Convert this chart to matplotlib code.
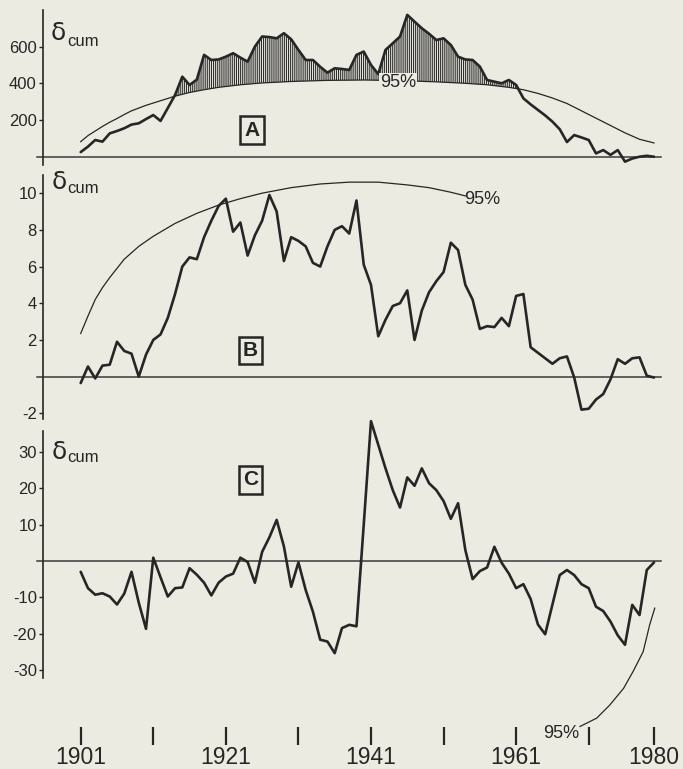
import numpy as np
import matplotlib
matplotlib.use("Agg")
import matplotlib.pyplot as plt

# ---------------------------------------------------------------- data
years = np.arange(1901, 1981)

# A: cumulative departures (upper panel)
cum_a = [25, 55, 91, 82, 127, 140, 155, 175, 182, 205,
         227, 195, 265, 336, 436, 391, 420, 555, 527, 530,
         545, 564, 540, 518, 600, 655, 652, 645, 673, 640,
         582, 527, 527, 490, 458, 482, 478, 473, 555, 573,
         500, 450, 582, 618, 655, 773, 736, 700, 670, 636,
         645, 609, 545, 530, 527, 491, 418, 409, 400, 418,
         391, 318, 285, 255, 225, 191, 150, 80, 118, 105,
         91, 18, 36, 10, 36, -27, -10, 0, 5, 0]

# B: cumulative departures (middle panel)
cum_b = [-0.35, 0.55, -0.1, 0.6, 0.65, 1.9, 1.4, 1.25, 0.0, 1.2,
         2.0, 2.3, 3.2, 4.5, 6.0, 6.5, 6.4, 7.6, 8.5, 9.3,
         9.7, 7.9, 8.4, 6.6, 7.7, 8.5, 9.9, 9.0, 6.3, 7.6,
         7.4, 7.1, 6.2, 6.0, 7.1, 8.0, 8.2, 7.8, 9.6, 6.1,
         5.0, 2.2, 3.1, 3.85, 4.0, 4.7, 2.0, 3.6, 4.6, 5.2,
         5.7, 7.3, 6.9, 5.0, 4.2, 2.6, 2.75, 2.7, 3.2, 2.75,
         4.4, 4.5, 1.6, 1.3, 1.0, 0.7, 1.0, 1.1, -0.05, -1.8,
         -1.75, -1.25, -0.95, -0.15, 0.95, 0.7, 1.0, 1.05, 0.05, -0.05]

# C: cumulative departures (lower panel)
cum_c = [-3.0, -7.5, -9.3, -8.9, -9.8, -12.0, -9.0, -3.0, -11.5, -18.7,
         0.9, -4.5, -9.8, -7.5, -7.3, -2.0, -3.8, -6.0, -9.5, -6.0,
         -4.3, -3.5, 0.9, -0.3, -6.0, 2.5, 6.5, 11.3, 4.0, -7.1,
         -0.4, -8.0, -14.0, -21.7, -22.2, -25.4, -18.5, -17.6, -18.0, 10.0,
         38.5, 32.0, 25.5, 19.5, 14.7, 23.0, 20.7, 25.5, 21.4, 19.5,
         16.5, 11.6, 15.9, 3.0, -5.0, -2.8, -1.8, 3.9, -0.5, -3.5,
         -7.5, -6.4, -10.5, -17.5, -20.2, -12.0, -3.9, -2.5, -3.9, -6.4,
         -7.5, -12.6, -13.8, -16.7, -20.5, -23.1, -12.1, -14.9, -2.5, -0.4]

# 95 % critical curves
crit_a_years = [1901, 1902, 1903, 1904, 1905, 1906, 1907, 1908, 1910, 1912,
                1914, 1916, 1918, 1920, 1923, 1926, 1930, 1935, 1940, 1945,
                1950, 1954, 1957, 1960, 1962, 1964, 1966, 1968, 1970, 1972,
                1974, 1976, 1978, 1980]
crit_a = [82, 115, 140, 165, 188, 208, 230, 250, 280, 305,
          330, 350, 365, 378, 392, 402, 410, 416, 418, 415,
          408, 400, 392, 378, 365, 345, 320, 290, 250, 210,
          170, 130, 95, 75]

crit_b_years = [1901, 1902, 1903, 1904, 1905, 1907, 1909, 1911, 1914, 1917,
                1920, 1923, 1926, 1930, 1934, 1938, 1942, 1946, 1949, 1952,
                1954]
crit_b = [2.35, 3.3, 4.2, 4.85, 5.4, 6.4, 7.1, 7.65, 8.35, 8.9,
          9.35, 9.7, 10.0, 10.3, 10.5, 10.6, 10.6, 10.45, 10.3, 10.05,
          9.85]

crit_c_years = [1969.8, 1972.1, 1973.9, 1975.8, 1977.1, 1978.5, 1979.4, 1980.1]
crit_c = [-45.6, -43.3, -39.7, -35.1, -30.5, -25.0, -17.6, -13.0]

ticks_a = [200, 400, 600]
ticks_b = [-2, 2, 4, 6, 8, 10]
ticks_c = [-30, -20, -10, 10, 20, 30]
year_ticks = [1901, 1911, 1921, 1931, 1941, 1951, 1961, 1971, 1980]
year_labels = ["1901", "", "1921", "", "1941", "", "1961", "", "1980"]

# ---------------------------------------------------------------- style
BG = "#ecebe2"
INK = "#262626"
FONT = "Liberation Sans"
W, H = 683, 769

plt.rcParams["axes.unicode_minus"] = False
plt.rcParams["hatch.linewidth"] = 0.8
plt.rcParams["font.family"] = [FONT, "DejaVu Sans"]

fig = plt.figure(figsize=(W / 100, H / 100), dpi=100, facecolor=BG)


def add_panel(top, bottom, left=43, right=670):
    ax = fig.add_axes([left / W, 1 - bottom / H, (right - left) / W,
                       (bottom - top) / H])
    ax.set_facecolor("none")
    for side in ("top", "right", "bottom"):
        ax.spines[side].set_visible(False)
    ax.spines["left"].set_color(INK)
    ax.spines["left"].set_linewidth(1.2)
    ax.set_xlim(1895.805, 1982.2)
    ax.tick_params(axis="y", direction="out", length=3, width=1.0,
                   color=INK, pad=1.5, labelsize=12, labelcolor=INK)
    return ax


def zero_line(ax):
    ax.plot([1894.98, 1980.96], [0, 0], color="#3a3a3a", lw=1.1,
            clip_on=False, zorder=1)


def sym_label(ax, x, y_delta, y_sub):
    ax.text(x, y_delta, "δ", fontsize=18, color=INK, ha="left", va="center",
            family="DejaVu Sans")
    ax.text(x + 2.2, y_sub, "cum", fontsize=12, color=INK, ha="left",
            va="center")


def box_label(ax, x, y, s):
    ax.text(x, y, s, fontsize=15, color=INK, ha="center", va="center",
            fontweight="bold",
            bbox=dict(boxstyle="square,pad=0.2", facecolor="none",
                      edgecolor=INK, linewidth=1.8))


line_kw = dict(color=INK, lw=1.9, solid_joinstyle="round",
               solid_capstyle="round", zorder=3)
crit_kw = dict(color=INK, lw=0.9, zorder=2)

# ---------------------------------------------------------------- panel A
ax_a = add_panel(10, 165)
ax_a.set_ylim(-45.2, 799.5)
ax_a.set_xticks([])
ax_a.set_yticks(ticks_a)
ax_a.set_yticklabels([str(t) for t in ticks_a])
zero_line(ax_a)
xf = np.linspace(1901, 1980, 3000)
ya = np.interp(xf, years, cum_a)
ca = np.interp(xf, crit_a_years, crit_a)
ax_a.fill_between(xf, ca, ya, where=ya > ca, interpolate=True,
                  facecolor="none", edgecolor="#2e2e2e", hatch="|" * 8,
                  linewidth=0, zorder=2)
ax_a.plot(crit_a_years, crit_a, **crit_kw)
ax_a.plot(years, cum_a, **line_kw)
ax_a.text(1944.7, 404, "95%", fontsize=13, color=INK, ha="center",
          va="center", zorder=4,
          bbox=dict(boxstyle="square,pad=0.05", facecolor=BG,
                    edgecolor="none"))
sym_label(ax_a, 1896.9, 672, 628)
box_label(ax_a, 1924.6, 145, "A")

# ---------------------------------------------------------------- panel B
ax_b = add_panel(175, 419)
ax_b.set_ylim(-2.31, 10.99)
ax_b.set_xticks([])
ax_b.set_yticks(ticks_b)
ax_b.set_yticklabels([str(t) for t in ticks_b])
zero_line(ax_b)
ax_b.plot(crit_b_years, crit_b, **crit_kw)
ax_b.plot(years, cum_b, **line_kw)
ax_b.text(1953.9, 9.67, "95%", fontsize=13, color=INK, ha="left",
          va="center")
sym_label(ax_b, 1897.0, 10.6, 10.25)
box_label(ax_b, 1924.4, 1.43, "B")

# ---------------------------------------------------------------- panel C
ax_c = add_panel(415, 745)
ax_c.set_ylim(-50.7, 40.2)
ax_c.spines["left"].set_bounds(-32.2, 35.8)
ax_c.set_yticks(ticks_c)
ax_c.set_yticklabels([str(t) for t in ticks_c])
ax_c.set_xticks(year_ticks)
ax_c.set_xticklabels(year_labels, fontsize=16.5, color=INK)
ax_c.tick_params(axis="x", direction="in", length=13, width=1.6,
                 color=INK, pad=1.0)
zero_line(ax_c)
ax_c.plot(crit_c_years, crit_c, clip_on=False, **crit_kw)
ax_c.plot(years, cum_c, **line_kw)
ax_c.text(1967.2, -47.4, "95%", fontsize=13, color=INK, ha="center",
          va="center")
sym_label(ax_c, 1897.0, 29.9, 28.4)
box_label(ax_c, 1924.4, 22.3, "C")

fig.savefig("out.png", dpi=100, facecolor=BG)
